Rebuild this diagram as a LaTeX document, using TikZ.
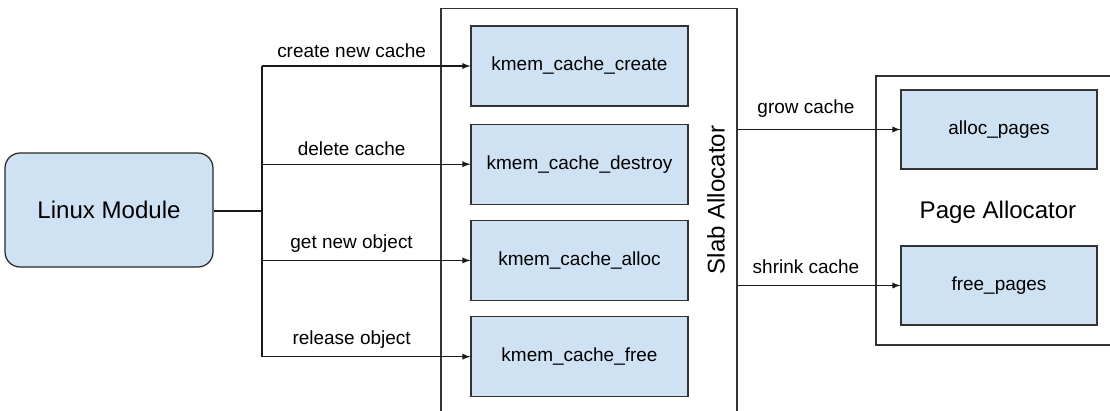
\documentclass[tikz,border=0pt]{standalone}
\usepackage{fontspec}
\setmainfont{Liberation Sans}
\usetikzlibrary{positioning}

\begin{document}
\begin{tikzpicture}[x=0.02cm, y=-0.02cm, line width=0.7pt]
            \tikzstyle{note}    = [text=black, font=\fontsize{10.8}{13}\selectfont]
            \tikzstyle{title}   = [text=black, font=\fontsize{13.7}{16}\selectfont]
            \tikzstyle{func}    = [rectangle, fill={rgb,255:red,207;green,226;blue,243}, draw=black!80, minimum width=4.34cm, minimum height=1.6cm, note, inner sep=0pt]
            \tikzstyle{pagefn}  = [func, minimum width=3.92cm, minimum height=1.58cm]
            \tikzstyle{frame}   = [rectangle, draw=black!80, inner sep=0pt]
            \tikzstyle{call}    = [draw=black!90, line width=0.6pt, -latex]

            \path[use as bounding box, clip] (0,0) rectangle (1110,410);

            \node[title, rectangle, rounded corners=0.3cm, fill={rgb,255:red,207;green,226;blue,243}, draw=black!85, minimum width=4.16cm, minimum height=2.28cm] (module) at (109,210) {Linux Module};

            % Slab Allocator
            \node[frame, minimum width=5.92cm, minimum height=8.3cm] (slab) at (589,216) {};
            \node[title, rotate=90] (slabtitle) at (716,200) {Slab Allocator};

            \node[func] (create) at (579.5,66) {kmem\_cache\_create};
            \node[func, below=0.34cm of create] (destroy) {kmem\_cache\_destroy};
            \node[func, below=0.3cm of destroy] (alloc) {kmem\_cache\_alloc};
            \node[func, below=0.3cm of alloc] (free) {kmem\_cache\_free};

            % Page Allocator
            \node[frame, minimum width=5.2cm, minimum height=5.38cm] (page) at (1006,210.5) {};
            \node[title] (pagetitle) at (998,212) {Page Allocator};
            \node[pagefn] (allocpages) at (999,129.5) {alloc\_pages};
            \node[pagefn] (freepages) at (999,285.5) {free\_pages};

            % calls from the module
            \coordinate (fork) at (262,211);
            \draw[draw=black!90] (module.east |- fork) -- (fork);
            \draw[draw=black!90] (fork |- create.west) -- (fork |- free.west);

            \draw[call] (fork |- create.west) -- (create.west) node[note, pos=0.43, above=1pt]{create new cache};
            \draw[call] (fork |- destroy.west) -- (destroy.west) node[note, pos=0.43, above=1pt]{delete cache};
            \draw[call] (fork |- alloc.west) -- (alloc.west) node[note, pos=0.43, above=1pt]{get new object};
            \draw[call] (fork |- free.west) -- (free.west) node[note, pos=0.43, above=1pt]{release object};

            % calls to the page allocator
            \draw[call] (slab.east |- allocpages.west) -- (allocpages.west) node[note, pos=0.42, above=3pt]{grow cache};
            \draw[call] (slab.east |- freepages.west) -- (freepages.west) node[note, pos=0.42, above=3pt]{shrink cache};
        \end{tikzpicture}
\end{document}
